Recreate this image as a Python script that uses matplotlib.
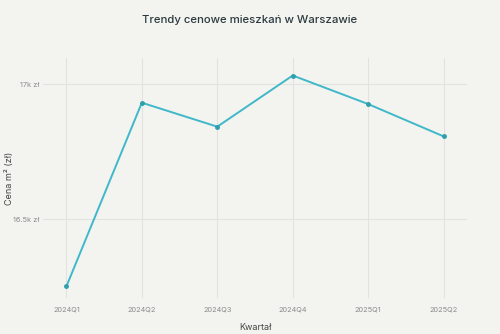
import matplotlib.pyplot as plt
from matplotlib.ticker import FuncFormatter

kwartaly = ['2024Q1', '2024Q2', '2024Q3', '2024Q4', '2025Q1', '2025Q2']
ceny = [16250, 16932, 16843, 17033, 16927, 16807]

plt.rcParams['font.family'] = ['Inter', 'DejaVu Sans']

bg = '#f3f3ef'
fig = plt.figure(figsize=(5, 3.34), dpi=100, facecolor=bg)
ax = fig.add_axes([43 / 500, 1 - 298 / 334, 424 / 500, 240 / 334], facecolor=bg)

x = list(range(len(kwartaly)))
ax.plot(x, ceny, color='#3fb8c9', lw=1.4, marker='o', ms=2.5,
        mfc='#2f9fae', mec='#2f9fae', zorder=3)

ax.set_xlim(-0.31, 5.31)
ax.set_ylim(16207, 17098)
ax.set_xticks(x)
ax.set_xticklabels(kwartaly)
ax.set_yticks([16500, 17000])
ax.yaxis.set_major_formatter(FuncFormatter(lambda v, p: f'{v / 1000:g}k zł'))

ax.grid(True, color='#e2e2de', lw=0.8)
ax.set_axisbelow(True)
for s in ax.spines.values():
    s.set_visible(False)
ax.tick_params(axis='x', length=0, labelsize=5.3, labelcolor='#8a8a8a', pad=6)
ax.tick_params(axis='y', length=0, labelsize=5.3, labelcolor='#8a8a8a', pad=3)

ax.set_xlabel('Kwartał', fontsize=6.5, color='#444444', labelpad=8)
ax.set_ylabel('Cena m² (zł)', fontsize=6.5, color='#444444')
ax.yaxis.set_label_coords(-0.068, 0.5)
fig.text(0.5, 1 - 20 / 334, 'Trendy cenowe mieszkań w Warszawie', ha='center', va='center',
         fontsize=8.2, color='#2b3a3f', fontweight='medium')

fig.savefig('out.png', dpi=100, facecolor=bg)
